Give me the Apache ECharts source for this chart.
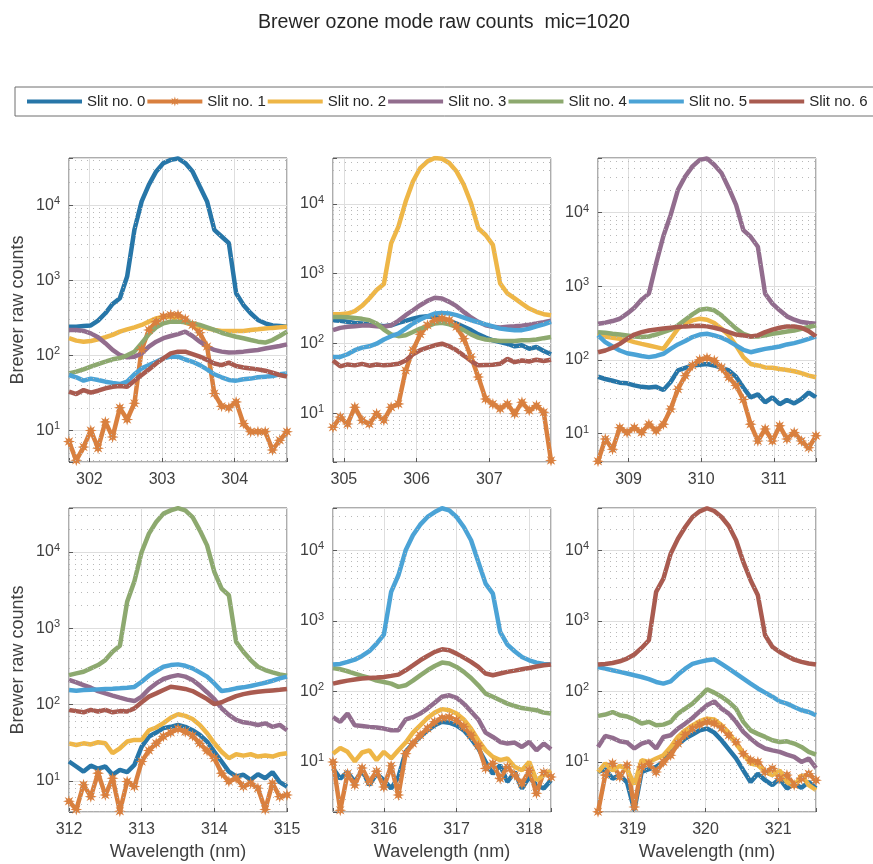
<!DOCTYPE html>
<html>
<head>
<meta charset="utf-8">
<script src="https://cdn.jsdelivr.net/npm/echarts@6.0.0/dist/echarts.min.js"></script>
<style>
  html, body { margin: 0; padding: 0; background: #fff; }
  #main { width: 873px; height: 864px; }
</style>
</head>
<body>
<div id="main"></div>
<script>
// wavelengths (nm) of each panel
var wl1 = [301.72,301.82,301.92,302.02,302.12,302.22,302.32,302.42,302.52,302.62,302.72,302.82,302.92,303.02,303.12,303.22,303.32,303.42,303.52,303.62,303.72,303.82,303.92,304.02,304.12,304.22,304.32,304.42,304.52,304.62,304.72];
var wl2 = [304.85,304.95,305.05,305.15,305.25,305.35,305.45,305.55,305.65,305.75,305.85,305.95,306.05,306.15,306.25,306.35,306.45,306.55,306.65,306.75,306.85,306.95,307.05,307.15,307.25,307.35,307.45,307.55,307.65,307.75,307.85];
var wl3 = [308.58,308.68,308.78,308.88,308.98,309.08,309.18,309.28,309.38,309.48,309.58,309.68,309.78,309.88,309.98,310.08,310.18,310.28,310.38,310.48,310.58,310.68,310.78,310.88,310.98,311.08,311.18,311.28,311.38,311.48,311.58];
var wl4 = [312.0,312.1,312.2,312.3,312.4,312.5,312.6,312.7,312.8,312.9,313.0,313.1,313.2,313.3,313.4,313.5,313.6,313.7,313.8,313.9,314.0,314.1,314.2,314.3,314.4,314.5,314.6,314.7,314.8,314.9,315.0];
var wl5 = [315.3,315.4,315.5,315.6,315.7,315.8,315.9,316.0,316.1,316.2,316.3,316.4,316.5,316.6,316.7,316.8,316.9,317.0,317.1,317.2,317.3,317.4,317.5,317.6,317.7,317.8,317.9,318.0,318.1,318.2,318.3];
var wl6 = [318.52,318.62,318.72,318.82,318.92,319.02,319.12,319.22,319.32,319.42,319.52,319.62,319.72,319.82,319.92,320.02,320.12,320.22,320.32,320.42,320.52,320.62,320.72,320.82,320.92,321.02,321.12,321.22,321.32,321.42,321.52];

// raw counts, panel 1 (slits 0..6)
var p1s0 = [241,241,246,250,290,363,483,575,1120,4690,11200,18700,28100,36300,40000,41800,36300,28100,17700,11200,4690,3820,3110,671,469,363,296,267,250,246,241];
var p1s1 = [7.1,4.0,6.0,10,5.8,13,8.2,20,14,23,120,218,281,328,345,345,302,254,200,131,31,21,20,24,12.4,9.6,9.6,9.6,5.5,7.4,9.6];
var p1s2 = [169,157,152,155,163,174,187,207,222,236,254,281,311,328,321,302,273,254,241,229,218,211,211,211,211,218,222,227,232,236,241];
var p1s3 = [218,218,211,196,174,145,118,101,94,96,106,131,152,169,181,192,207,181,152,131,118,112,109,110,112,115,118,123,128,133,140];
var p1s4 = [57.5,60.6,65,70.6,76.6,82.3,88.5,92,100,112,145,192,236,267,281,281,275,267,254,236,218,200,187,177,169,160,152,148,160,181,207];
var p1s5 = [54.7,51,46,49,47,44.6,43,41.5,44.6,56,67,74,82,91,96,96,88,82,74,65,56,51,47,46,48,49,51,52,53,56,57.5];
var p1s6 = [32.8,30.5,34.5,31.8,33.8,36.3,38.2,39,38.2,46,54.7,65,78,91,106,112,112,104,96,87,78,74,80,72,69,67,65,62.5,58.7,54.7,52];

// panel 2
var p2s0 = [215,211,204,197,193,188,182,176,182,197,211,227,240,245,240,227,211,193,173,155,135,121,111,105,99,91,94,84,89,78,70];
var p2s1 = [6.3,8.8,7.0,12.2,7.9,7.0,9.8,7.9,12.2,13.6,41,80,135,182,215,227,215,173,117,64,33,16,13.6,11.6,13.6,9.8,14.4,10.9,12.9,10.3,2.1];
var p2s2 = [262,262,268,290,346,441,581,708,2720,4720,10800,20900,32600,40600,45300,44300,38500,29200,18800,10200,4470,3580,2580,725,520,441,373,316,284,262,254];
var p2s3 = [155,167,173,176,180,180,176,173,182,211,254,299,353,408,451,441,394,342,283,235,204,182,173,169,173,176,180,186,193,201,211];
var p2s4 = [240,240,237,232,225,215,193,158,135,127,131,146,163,176,193,197,188,173,155,135,121,114,111,108,108,108,111,111,114,119,124];
var p2s5 = [64,64,70,80,87,91,99,114,127,138,163,193,220,245,268,274,268,254,235,215,201,188,176,163,158,155,155,163,176,188,204];
var p2s6 = [57,47,50,48.5,51,48,50,48.5,49.5,51,57,70,80,87,94,99,91,80,67,56,48.5,49,49.5,51,60,54,57,55,58.5,56,58.5];

// panel 3
var p3s0 = [59,55,52,49,48,45,43,42,43,39,50,72,78,84,86,88,84,78,72,59,42,31,34,26.5,31,25,28.5,25.6,29.4,36,31];
var p3s1 = [4.2,8.4,6.1,12,10.3,12,10.3,13.4,10.9,13.4,21.5,40,61,84,100,106,98,78,58,45,29,13.4,7.9,11.5,7.9,12.7,8.4,10.3,7.9,6.4,9.3];
var p3s2 = [231,208,200,193,187,174,165,157,149,141,193,265,310,344,362,351,316,265,215,157,109,88,84,79,78,75,73,70,66,61,58];
var p3s3 = [310,320,337,362,424,512,658,794,2040,4810,9290,20400,31000,42400,52000,54500,44700,34400,21500,12700,5800,4710,3440,794,580,471,390,351,326,316,310];
var p3s4 = [238,233,226,221,215,208,204,208,221,238,257,294,351,415,481,495,471,403,326,265,226,208,208,215,226,233,243,251,265,279,294];
var p3s5 = [215,174,152,134,123,118,113,109,113,121,141,162,180,204,221,226,215,200,180,157,137,127,134,141,146,152,162,169,180,193,208];
var p3s6 = [127,134,146,165,193,221,238,251,259,267,273,279,285,288,291,285,273,257,238,221,215,208,215,238,257,273,285,285,273,246,208];

// panel 4
var p4s0 = [17.9,15.4,13.2,15.8,14.4,15.4,12,13.9,13,16.2,28,38,43,49,51,54,51,46,40,32.7,24,17.9,13.2,11.4,12,10.3,12.2,10.8,13,9.6,8.4];
var p4s1 = [5.4,4.2,8.9,6.2,12.6,6.5,10.8,4.0,9.8,8.4,17.9,25,31,38,43,48,44,39,31,24.7,19.8,12.6,9.8,10.8,8.4,9.3,8,4.2,9.3,6.2,6.5];
var p4s2 = [31,29.5,31,30,32,31,23,26.7,32.7,34.4,34.4,46,50,57,67,74.5,71,64.5,54,42,31,24,19.8,22.3,21.4,22.3,20.8,21.4,20.8,22.3,23];
var p4s3 = [210,195,180,166,150,140,131,123,116,111,127,160,189,216,232,243,232,210,177,145,118,89,73,63,58.5,56.7,54,56.7,51,54,46];
var p4s4 = [243,256,269,298,329,383,492,589,2220,4130,10000,17400,24700,31800,35100,37500,35100,28700,19200,12200,5470,3310,2710,664,492,383,313,283,264,248,239];
var p4s5 = [155,152,155,156,158,160,161,163,166,170,199,239,275,313,329,336,322,298,264,232,189,150,155,163,168,175,184,193,205,220,232];
var p4s6 = [85,82,79,85,81,85,79,82,81,89,107,127,140,155,171,166,160,150,133,118,101,107,118,129,137,143,147,150,153,156,160];

// panel 5
var p5s0 = [8.1,5.8,7.2,5.2,7.6,4.7,6.8,5.5,4.2,6.1,13.9,18.2,22.6,28.1,33,37,36,33,28.1,21.4,15.5,10,6.8,9,5.2,7.2,4.2,6.1,4.7,4.2,5.5];
var p5s1 = [10,2.07,6.8,4.7,8.2,5.2,7.4,4.4,8.8,3.4,13.1,18.2,23.9,29.7,37,42,43,39,31.4,23.9,16.9,8.1,9.5,5.8,8.5,6.5,4.9,7.6,3.6,7.1,6.1];
var p5s2 = [13.1,15.8,13.9,10.2,13.6,14.6,10.6,13.9,11.2,14.6,18.8,26,33,42,50,56,54,48.5,40,29.7,20.3,14.6,11.8,10.6,11.2,8.5,7.6,10,5.5,6.5,7.6];
var p5s3 = [43,37,48.5,33,32.4,31.4,30.7,29.7,28.1,28.1,40,43,48.5,57,69,84,88,81,67,52,40,26,22.6,19.2,18.2,18.8,16.3,19.2,14.6,18.2,15.1];
var p5s4 = [215,206,193,179,166,155,142,136,129,116,122,142,169,199,229,256,248,222,189,155,122,93,84,75,67,62,58,56,54,50,48.5];
var p5s5 = [240,245,262,282,318,371,476,638,2570,4430,10000,16300,23100,29700,34900,39500,36900,29700,21400,13900,6840,3370,2430,697,461,371,308,276,256,245,240];
var p5s6 = [129,136,142,147,152,155,157,160,166,173,199,234,276,318,363,395,383,343,301,262,222,179,169,179,189,197,206,215,225,234,240];

// panel 6
var p6s0 = [7.2,7.9,5.8,6.5,5.1,2.07,7.2,7.9,8.5,10,13.9,17.6,21.4,24.4,28.1,29.7,26,20.3,15.1,11.2,7.6,5.2,6.8,5.5,4.7,5.8,4.2,4.9,4.3,5.2,4.2];
var p6s1 = [1.96,6.5,9.5,6.1,9.0,2.3,8.5,9.5,7.2,10,12.4,18.2,24.4,29.7,33.8,37,35.3,30.3,23.9,19.2,13.1,10.6,10,7.2,8.1,5.8,6.5,4.7,5.8,6.8,5.5];
var p6s2 = [7.2,9.5,7.6,8.8,7.9,4.8,10.6,10,11.2,12.4,16.3,22.6,28.1,33,37.8,41,40,33,26,18.2,13.1,9.5,9.0,7.2,6.5,7.6,5.2,4.5,6.5,4.7,4.0];
var p6s3 = [16.3,23.4,21.9,19.6,18.8,15.5,18.2,19.6,15.5,22.6,23.9,29.7,35,42,52,63.5,72,57,48.5,37,26.7,21.4,17.6,15.5,14.6,13.9,12.7,11.8,10,11.2,8.2];
var p6s4 = [45,47,51,46,44,40,35,37,33,33.8,37,48.5,57,67,84,107,96,84,71,57,37,28,25,22.6,20.3,19.2,19.6,18.2,16.3,13.9,12.7];
var p6s5 = [222,210,199,189,179,169,160,149,136,129,139,173,210,245,262,276,285,245,210,179,152,129,110,96,84,72,67,60,54,51,46];
var p6s6 = [240,245,253,267,292,333,413,531,2570,3960,8970,14600,21400,29700,35700,39500,36100,29700,22100,13900,6840,3760,2300,624,427,362,318,282,262,248,240];

// axis limits and minor log grid values
var xRanges = [[301.72,304.72],[304.85,307.85],[308.58,311.58],[312.0,315.0],[315.3,318.3],[318.52,321.52]];
var yRanges = [[3.8,42400],[2.0,45400],[4.1,55200],[3.9,37700],[1.95,39800],[1.95,39800]];
var minorLogTicks = [2,3,4,5,6,7,8,9,20,30,40,50,60,70,80,90,200,300,400,500,600,700,800,900,
    2000,3000,4000,5000,6000,7000,8000,9000,20000,30000,40000,50000];

var slitNames = ['Slit no. 0','Slit no. 1','Slit no. 2','Slit no. 3','Slit no. 4','Slit no. 5','Slit no. 6'];
var slitColors = ['#2776a8','#d9803f','#eeb647','#926d8e','#8da96f','#4ba3d6','#a95b50'];

var panelWl = [wl1, wl2, wl3, wl4, wl5, wl6];
var panelCounts = [
    [p1s0,p1s1,p1s2,p1s3,p1s4,p1s5,p1s6],
    [p2s0,p2s1,p2s2,p2s3,p2s4,p2s5,p2s6],
    [p3s0,p3s1,p3s2,p3s3,p3s4,p3s5,p3s6],
    [p4s0,p4s1,p4s2,p4s3,p4s4,p4s5,p4s6],
    [p5s0,p5s1,p5s2,p5s3,p5s4,p5s5,p5s6],
    [p6s0,p6s1,p6s2,p6s3,p6s4,p6s5,p6s6]
];

// matlab style '*' marker
var starMarker = 'path://M0,-1 L0.172,-0.416 L0.707,-0.707 L0.416,-0.172 L1,0 L0.416,0.172 L0.707,0.707 L0.172,0.416 L0,1 L-0.172,0.416 L-0.707,0.707 L-0.416,0.172 L-1,0 L-0.416,-0.172 L-0.707,-0.707 L-0.172,-0.416 Z';
// legend icons in a 55x14 box: a thick bar, and the bar with a star
var legendBar = 'path://M0,0 L0.01,0 Z M55,14 L54.99,14 Z M0,5 L55,5 L55,9 L0,9 Z';
var legendStarBar = legendBar + ' M27.5,2 L28.36,4.92 L31.04,3.46 L29.58,6.14 L32.5,7 L29.58,7.86 L31.04,10.54 L28.36,9.08 L27.5,12 L26.64,9.08 L23.96,10.54 L25.42,7.86 L22.5,7 L25.42,6.14 L23.96,3.46 L26.64,4.92 Z';

var labelColor = '#404040';
var gridLefts = [69, 333, 598];
var gridTops = [158, 508];

var chart = echarts.init(document.getElementById('main'));

var grids = [], xAxes = [], yAxes = [], series = [];

for (var p = 0; p < 6; p++) {
    var col = p % 3, row = Math.floor(p / 3);
    grids.push({
        left: gridLefts[col], top: gridTops[row], width: 218, height: 304,
        show: true, borderColor: '#5a5a5a', borderWidth: 1, backgroundColor: '#fff'
    });
    xAxes.push({
        type: 'value', gridIndex: p,
        min: xRanges[p][0], max: xRanges[p][1],
        minInterval: 1, maxInterval: 1,
        name: row === 1 ? 'Wavelength (nm)' : '',
        nameLocation: 'middle', nameGap: 31,
        nameTextStyle: {fontSize: 18, color: labelColor},
        axisLine: {show: false},
        axisTick: {inside: true, length: 4, lineStyle: {color: '#5a5a5a'}},
        axisLabel: {
            fontSize: 16, color: labelColor, margin: 10,
            formatter: function (v) {
                return Math.abs(v - Math.round(v)) < 1e-6 ? String(Math.round(v)) : '';
            }
        },
        splitLine: {show: true, lineStyle: {color: '#dedede', width: 1}}
    });
    yAxes.push({
        type: 'log', logBase: 10, gridIndex: p,
        min: yRanges[p][0], max: yRanges[p][1],
        name: col === 0 ? 'Brewer raw counts' : '',
        nameLocation: 'middle', nameGap: 42,
        nameTextStyle: {fontSize: 18, color: labelColor},
        axisLine: {show: false},
        axisTick: {inside: true, length: 4, lineStyle: {color: '#5a5a5a'}},
        axisLabel: {
            margin: 9,
            formatter: function (v) {
                var e = Math.log10(v), r = Math.round(e);
                if (Math.abs(e - r) > 1e-6) return '';
                return '{b|10}{s|' + r + '}';
            },
            rich: {
                b: {fontSize: 16, color: labelColor},
                s: {fontSize: 11, color: labelColor, padding: [0, 0, 8, 0]}
            }
        },
        splitLine: {show: true, lineStyle: {color: '#dedede', width: 1}}
    });

    // dotted minor grid
    var lo = yRanges[p][0], hi = yRanges[p][1];
    series.push({
        type: 'line', xAxisIndex: p, yAxisIndex: p, data: [], silent: true, z: 1,
        markLine: {
            silent: true, animation: false, symbol: ['none', 'none'],
            label: {show: false},
            lineStyle: {color: '#b8b8b8', width: 1, type: [1, 5]},
            emphasis: {disabled: true},
            data: minorLogTicks.filter(function (v) { return v > lo && v < hi; })
                .map(function (v) { return {yAxis: v}; })
        }
    });

    for (var s = 0; s < 7; s++) {
        var wl = panelWl[p], cnt = panelCounts[p][s];
        series.push({
            name: slitNames[s], type: 'line',
            xAxisIndex: p, yAxisIndex: p, z: 2,
            data: wl.map(function (x, i) { return [x, cnt[i]]; }),
            symbol: s === 1 ? starMarker : 'none',
            symbolSize: 12, showSymbol: s === 1, showAllSymbol: true,
            lineStyle: {width: 4.5, color: slitColors[s]},
            itemStyle: {color: slitColors[s]},
            emphasis: {disabled: true}
        });
    }
}

var option = {
    animation: false,
    backgroundColor: '#fff',
    textStyle: {fontFamily: '"Liberation Sans", Arial, Helvetica, sans-serif'},
    title: {
        text: 'Brewer ozone mode raw counts  mic=1020',
        left: 253, top: 8,
        textStyle: {fontSize: 19.6, fontWeight: 'normal', color: '#262626'}
    },
    legend: {
        data: slitNames.map(function (n, i) {
            return {name: n, icon: i === 1 ? legendStarBar : legendBar};
        }),
        left: 15, top: 87, width: 866,
        padding: [7, 12, 7, 12],
        itemWidth: 55, itemHeight: 14, itemGap: 2,
        borderColor: '#6e6e6e', borderWidth: 1, backgroundColor: '#fff',
        textStyle: {fontSize: 15, color: '#262626'}
    },
    grid: grids,
    xAxis: xAxes,
    yAxis: yAxes,
    series: series
};

chart.setOption(option);
</script>
</body>
</html>
